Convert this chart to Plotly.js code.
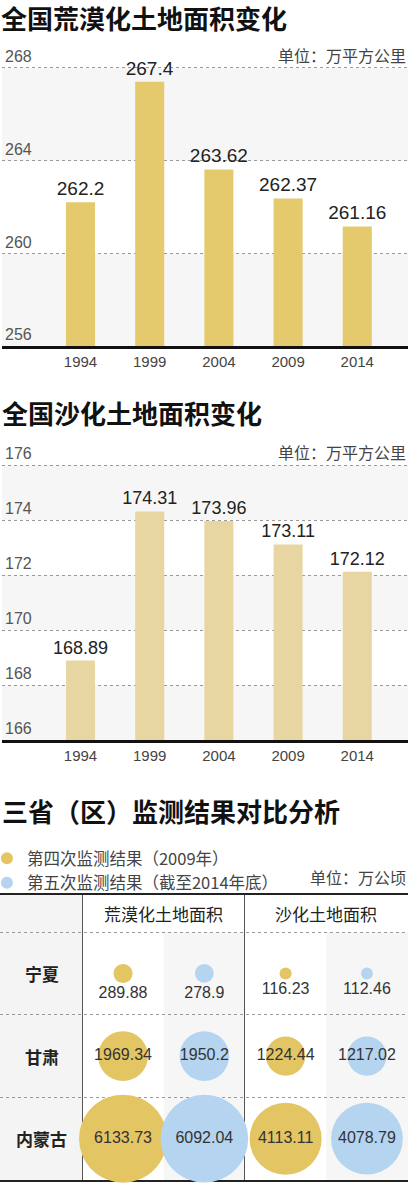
<!DOCTYPE html>
<html>
<head>
<meta charset="utf-8">
<script src="https://cdn.plot.ly/plotly-3.0.1.min.js"></script>
<style>html,body{margin:0;padding:0;background:#fff;}#chart{width:408px;height:1190px;}</style>
</head>
<body>
<div id="chart"></div>
<script>
// ---- data ----
const years = ['1994', '1999', '2004', '2009', '2014'];
const desertArea = [262.2, 267.4, 263.62, 262.37, 261.16];   // 全国荒漠化土地面积 (万平方公里)
const sandyArea = [168.89, 174.31, 173.96, 173.11, 172.12];  // 全国沙化土地面积 (万平方公里)
const desertTicks = [256, 260, 264, 268];
const sandyTicks = [166, 168, 170, 172, 174, 176];

const provinces = ['宁夏', '甘肃', '内蒙古'];
const metrics = ['荒漠化土地面积', '沙化土地面积'];
const seriesNames = ['第四次监测结果（2009年）', '第五次监测结果（截至2014年底）'];
const desert2009 = [289.88, 1969.34, 6133.73];
const desert2014 = [278.9, 1950.2, 6092.04];
const sandy2009 = [116.23, 1224.44, 4113.11];
const sandy2014 = [112.46, 1217.02, 4078.79];

// ---- styles ----
const W = 408, H = 1190;
const CJK = '"Noto Sans CJK SC", sans-serif';
const NUM = '"Liberation Sans", "Noto Sans CJK SC", sans-serif';
const gold = '#e4ca6c', pale = '#e8d6a2', yellowB = '#e3c564', blueB = '#b4d4ef';
const py = p => 1 - p / H;

const traces = [];
traces.push({
  type: 'bar', x: years, y: desertArea, xaxis: 'x', yaxis: 'y',
  marker: {color: gold}, width: 0.42, text: desertArea.map(String),
  textposition: 'outside', cliponaxis: false, constraintext: 'none',
  textfont: {family: NUM, size: 19, color: '#222'}, showlegend: false, hoverinfo: 'none'
});
traces.push({
  type: 'bar', x: years, y: sandyArea, xaxis: 'x2', yaxis: 'y2',
  marker: {color: pale}, width: 0.42, text: sandyArea.map(String),
  textposition: 'outside', cliponaxis: false, constraintext: 'none',
  textfont: {family: NUM, size: 18, color: '#222'}, showlegend: false, hoverinfo: 'none'
});

// bubbles
const series = [[desert2009, sandy2009], [desert2014, sandy2014]];
const maxV = Math.max(...desert2009, ...desert2014, ...sandy2009, ...sandy2014);
const maxDiam = 88;
const sizeref = 2 * maxV / (maxDiam * maxDiam);
series.forEach((s, si) => {
  const xs = [], ys = [], vs = [], tp = [];
  metrics.forEach((m, mi) => {
    provinces.forEach((p, pi) => {
      xs.push(mi * 2 + si); ys.push(pi); vs.push(s[mi][pi]);
      tp.push(pi === 0 ? 'bottom center' : 'middle center');
    });
  });
  traces.push({
    type: 'scatter', mode: 'markers+text', x: xs, y: ys, xaxis: 'x3', yaxis: 'y3',
    name: seriesNames[si], text: vs.map(String), textposition: tp, cliponaxis: false,
    textfont: {family: NUM, size: 16, color: '#333'},
    marker: {size: vs, sizemode: 'area', sizeref: sizeref, color: si === 0 ? yellowB : blueB, line: {width: 0}, opacity: 1},
    hoverinfo: 'none'
  });
});

// ---- background bands ----
const shapes = [];
function bands(ticks, xref, yref) {
  for (let i = ticks.length - 1, k = 0; i > 0; i--, k++) {
    if (k % 2 === 0) shapes.push({type: 'rect', layer: 'below', xref: xref + ' domain', yref: yref,
      x0: 0, x1: 1, y0: ticks[i - 1], y1: ticks[i], fillcolor: '#f6f6f6', line: {width: 0}});
  }
}
bands(desertTicks, 'x', 'y');
bands(sandyTicks, 'x2', 'y2');
// table column shading
const headTop = -0.95, rowTop = -0.5, rowBot = provinces.length - 0.5;
shapes.push({type: 'rect', layer: 'below', xref: 'x3', yref: 'y3', x0: -1.513, x1: -0.5, y0: headTop, y1: rowBot, fillcolor: '#f4f4f4', line: {width: 0}});
metrics.forEach((m, mi) => {
  shapes.push({type: 'rect', layer: 'below', xref: 'x3', yref: 'y3', x0: mi * 2 + 0.5, x1: mi * 2 + 1.5 + (mi === metrics.length - 1 ? 0.1 : 0), y0: rowTop, y1: rowBot, fillcolor: '#f6f6f6', line: {width: 0}});
});

// ---- annotations ----
const ann = [];
const titleFont = {family: CJK, size: 26, color: '#111', weight: 700};
ann.push({xref: 'paper', yref: 'paper', x: 0, y: py(18), xanchor: 'left', yanchor: 'middle', borderpad: 0, text: '全国荒漠化土地面积变化', showarrow: false, font: titleFont});
ann.push({xref: 'paper', yref: 'paper', x: 0, y: py(412), xanchor: 'left', yanchor: 'middle', text: '全国沙化土地面积变化', showarrow: false, font: titleFont});
ann.push({xref: 'paper', yref: 'paper', x: 0, y: py(810), xanchor: 'left', yanchor: 'middle', text: '三省（区）监测结果对比分析', showarrow: false, font: titleFont});
const unitFont = {family: CJK, size: 16, color: '#444'};
ann.push({xref: 'paper', yref: 'paper', x: 1, y: py(55), xanchor: 'right', yanchor: 'middle', text: '单位：万平方公里', showarrow: false, font: unitFont});
ann.push({xref: 'paper', yref: 'paper', x: 1, y: py(452), xanchor: 'right', yanchor: 'middle', text: '单位：万平方公里', showarrow: false, font: unitFont});
ann.push({xref: 'paper', yref: 'paper', x: 1, y: py(877), xanchor: 'right', yanchor: 'middle', text: '单位：万公顷', showarrow: false, font: unitFont});
metrics.forEach((m, mi) => ann.push({xref: 'x3', yref: 'y3', x: mi * 2 + 0.5, y: (headTop + rowTop) / 2, text: m, showarrow: false, font: {family: CJK, size: 17, color: '#222'}}));
provinces.forEach((p, pi) => ann.push({xref: 'x3', yref: 'y3', x: -1, y: pi, text: p, showarrow: false, font: {family: CJK, size: 17, color: '#222', weight: 700}}));

const tickFontY = {family: NUM, size: 16, color: '#555'};
const tickFontX = {family: NUM, size: 15, color: '#444'};
function barX() {
  return {domain: [0.005, 1], range: [-1.134, 4.733], type: 'category', showgrid: false, showline: true,
    linecolor: '#111', linewidth: 3, ticks: '', tickfont: tickFontX, zeroline: false, fixedrange: true};
}
function barY(dom, range, ticks) {
  return {domain: dom, range: range, tickvals: ticks, showgrid: true, gridcolor: '#9a9a9a', griddash: 'dot', gridwidth: 1,
    ticklabelposition: 'inside top', tickfont: tickFontY, zeroline: false, showline: false, ticks: '', fixedrange: true};
}

const layout = {
  width: W, height: H, margin: {l: 0, r: 0, t: 0, b: 0, autoexpand: false},
  paper_bgcolor: '#fff', plot_bgcolor: 'rgba(0,0,0,0)',
  font: {family: CJK},
  xaxis: Object.assign(barX(), {anchor: 'y'}),
  // range extends above the top tick so its label (drawn above the line) stays inside
  yaxis: Object.assign(barY([py(346), py(346 - 13 * 23.17)], [256, 269], desertTicks), {anchor: 'x'}),
  xaxis2: Object.assign(barX(), {anchor: 'y2'}),
  yaxis2: Object.assign(barY([py(740), py(740 - 10.8 * 27.5)], [166, 176.8], sandyTicks), {anchor: 'x2'}),
  xaxis3: {anchor: 'y3', domain: [0, 1], range: [-1.513, 3.505], tickvals: [-0.5, 1.5], showgrid: true, gridcolor: '#555', gridwidth: 1,
    showticklabels: false, showline: true, mirror: true, linecolor: '#222', linewidth: 2, zeroline: false, ticks: '', layer: 'below traces', fixedrange: true},
  yaxis3: {anchor: 'x3', domain: [py(1180), py(895)], range: [rowBot, headTop], tickvals: [-0.5, 0.5, 1.5], showgrid: true, gridcolor: '#9a9a9a',
    griddash: 'dot', gridwidth: 1, showticklabels: false, zeroline: false, ticks: '', layer: 'below traces', fixedrange: true},
  legend: {x: -0.032, y: py(841), xanchor: 'left', yanchor: 'top', font: {family: CJK, size: 16.5, color: '#444'},
    bgcolor: 'rgba(0,0,0,0)', itemsizing: 'constant', orientation: 'v', tracegroupgap: 0},
  showlegend: true,
  shapes: shapes, annotations: ann
};
Plotly.newPlot('chart', traces, layout, {displayModeBar: false, staticPlot: true});
</script>
</body>
</html>
